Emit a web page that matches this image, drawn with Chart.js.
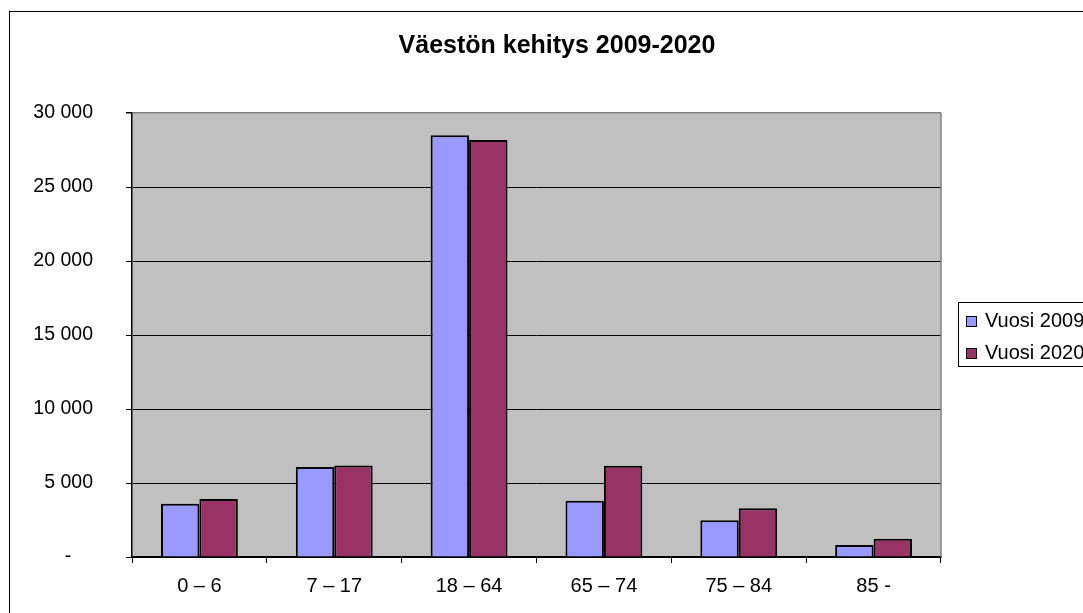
<!DOCTYPE html>
<html>
<head>
<meta charset="utf-8">
<script src="https://cdn.jsdelivr.net/npm/chart.js@4/dist/chart.umd.min.js"></script>
<style>
  html, body { margin: 0; padding: 0; background: #fff; }
  #wrap { width: 1083px; height: 613px; position: relative; }
</style>
</head>
<body>
<div id="wrap"><canvas id="chart" width="1083" height="613"></canvas></div>
<script>
// --- DATA ---
const titleText = 'Väestön kehitys 2009-2020';
const categories = ['0 – 6', '7 – 17', '18 – 64', '65 – 74', '75 – 84', '85 -'];
const seriesNames = ['Vuosi 2009', 'Vuosi 2020'];
const values2009 = [3600, 6080, 28500, 3800, 2480, 810];
const values2020 = [3920, 6180, 28180, 6170, 3290, 1240];
const yTicks = [0, 5000, 10000, 15000, 20000, 25000, 30000];

const FONT = "'Liberation Sans', Arial, sans-serif";

function fmt(v) {
    if (v === 0) return '-    ';
    return String(v).replace(/\B(?=(\d{3})+(?!\d))/g, ' ');
}

// background, frame, title and legend
const decor = {
    id: 'decor',
    beforeDraw(chart) {
        const { ctx, chartArea: a } = chart;
        ctx.save();
        ctx.fillStyle = '#fff';
        ctx.fillRect(0, 0, chart.width, chart.height);
        ctx.strokeStyle = '#000';
        ctx.lineWidth = 1;
        ctx.strokeRect(9.5, 11.5, 1200, 700);
        ctx.fillStyle = '#c0c0c0';
        ctx.fillRect(a.left, a.top, a.right - a.left, a.bottom - a.top);
        ctx.restore();
    },
    beforeDatasetsDraw(chart) {
        const { ctx, chartArea: a } = chart;
        ctx.save();
        ctx.strokeStyle = '#808080';
        ctx.lineWidth = 1.5;
        ctx.beginPath();
        ctx.moveTo(a.right, a.top);
        ctx.lineTo(a.right, a.bottom);
        ctx.stroke();
        ctx.restore();
    },
    afterDraw(chart) {
        const { ctx } = chart;
        ctx.save();
        // title
        ctx.fillStyle = '#000';
        ctx.font = 'bold 25px ' + FONT;
        ctx.textAlign = 'center';
        ctx.textBaseline = 'middle';
        ctx.fillText(titleText, 557, 46);
        // legend
        ctx.strokeStyle = '#000';
        ctx.lineWidth = 1;
        ctx.strokeRect(958.5, 302.5, 200, 64);
        ctx.font = '20px ' + FONT;
        ctx.textAlign = 'left';
        chart.data.datasets.forEach((ds, i) => {
            const y = 321 + i * 32;
            ctx.fillStyle = ds.backgroundColor;
            ctx.fillRect(966, y - 5, 11, 11);
            ctx.strokeRect(966.5, y - 4.5, 10, 10);
            ctx.fillStyle = '#000';
            ctx.fillText(ds.label, 985, y);
        });
        ctx.restore();
    }
};

new Chart(document.getElementById('chart'), {
    type: 'bar',
    data: {
        labels: categories,
        datasets: [
            { label: seriesNames[0], data: values2009, backgroundColor: '#9999ff', borderColor: '#000', borderWidth: 2 },
            { label: seriesNames[1], data: values2020, backgroundColor: '#993366', borderColor: '#000', borderWidth: 2 }
        ]
    },
    options: {
        responsive: false,
        animation: false,
        events: [],
        layout: { padding: { left: 0, right: 142, top: 113, bottom: 0 } },
        datasets: { bar: { categoryPercentage: 0.57, barPercentage: 1.0 } },
        plugins: { legend: { display: false }, title: { display: false }, tooltip: { enabled: false } },
        scales: {
            x: {
                afterFit(s) { s.height = 56; },
                grid: { offset: true, drawOnChartArea: false, drawTicks: true, tickLength: 6, color: '#000' },
                border: { color: '#000', width: 1.5 },
                ticks: { color: '#000', font: { family: FONT, size: 20 }, padding: 11, maxRotation: 0 }
            },
            y: {
                min: 0,
                max: 30000,
                afterFit(s) { s.width = 132; },
                afterBuildTicks(s) { s.ticks = yTicks.map(v => ({ value: v })); },
                grid: {
                    color: c => (c.tick && c.tick.value === 30000) ? '#808080' : '#000',
                    lineWidth: c => (c.tick && c.tick.value === 30000) ? 1.5 : 1,
                    tickColor: '#000',
                    tickLength: 6
                },
                border: { color: '#000', width: 1.5 },
                ticks: { color: '#000', font: { family: FONT, size: 19.5 }, padding: 33, callback: v => fmt(v) }
            }
        }
    },
    plugins: [decor]
});
</script>
</body>
</html>
